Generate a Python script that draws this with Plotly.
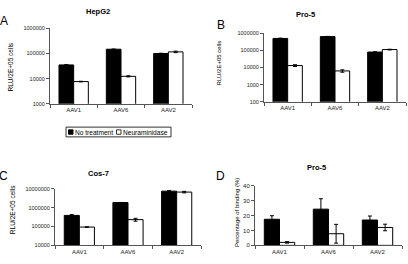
import plotly.graph_objects as go

W, H = 408, 264
categories = ["AAV1", "AAV6", "AAV2"]

# Panel A: HepG2
a_none = [35000, 148000, 100000]
a_none_err = [1500, 2000, 2500]
a_neur = [7600, 12300, 116000]
a_neur_err = [200, 600, 8000]

# Panel B: Pro-5
b_none = [500000, 640000, 80000]
b_none_err = [20000, 20000, 3000]
b_neur = [13000, 6300, 112000]
b_neur_err = [1500, 1000, 5000]

# Panel C: Cos-7
c_none = [385000, 1850000, 7400000]
c_none_err = [40000, 20000, 500000]
c_neur = [93000, 230000, 6600000]
c_neur_err = [2000, 40000, 600000]

# Panel D: Pro-5 binding (%)
d_none = [17.5, 24.3, 17.0]
d_none_err = [2.4, 7.0, 2.7]
d_neur = [2.0, 7.8, 12.0]
d_neur_err = [0.5, 6.3, 2.2]

log_ticks_A = [1000, 10000, 100000, 1000000]
log_ticks_B = [100, 1000, 10000, 100000, 1000000]
log_ticks_C = [10000, 100000, 1000000, 10000000]
lin_ticks_D = [0, 10, 20, 30, 40]

FONT = "Liberation Sans, Arial, sans-serif"
AX = "#555555"

def px_x(a, b):
    return [a / W, b / W]

def px_y(top, bottom):
    return [1 - bottom / H, 1 - top / H]

fig = go.Figure()

panels = [
    ("", a_none, a_none_err, a_neur, a_neur_err),
    ("2", b_none, b_none_err, b_neur, b_neur_err),
    ("3", c_none, c_none_err, c_neur, c_neur_err),
    ("4", d_none, d_none_err, d_neur, d_neur_err),
]

for suf, nv, ne, tv, te in panels:
    fig.add_trace(go.Bar(
        x=categories, y=nv, name="No treatment",
        marker=dict(color="black", line=dict(color="black", width=1)),
        error_y=dict(type="data", array=ne, color="black", thickness=1, width=2),
        xaxis="x" + suf, yaxis="y" + suf, showlegend=False,
    ))
    fig.add_trace(go.Bar(
        x=categories, y=tv, name="Neuraminidase",
        marker=dict(color="white", line=dict(color="black", width=1)),
        error_y=dict(type="data", array=te, color="black", thickness=1, width=2),
        xaxis="x" + suf, yaxis="y" + suf, showlegend=False,
    ))

def xax(dom, anchor):
    return dict(domain=dom, anchor=anchor, type="category", range=[-0.5, 2.5],
                showline=True, linecolor=AX, linewidth=1, ticks="outside",
                tickson="boundaries", ticklen=3, tickcolor=AX, showgrid=False,
                tickfont=dict(family=FONT, size=6, color="#222"), zeroline=False)

def yax_log(dom, anchor, rng, tv):
    return dict(domain=dom, anchor=anchor, type="log", range=rng,
                tickvals=tv, ticktext=[str(v) for v in tv],
                showline=True, linecolor=AX, linewidth=1, ticks="outside",
                ticklen=3, tickcolor=AX, showgrid=False, zeroline=False,
                tickfont=dict(family=FONT, size=5.5, color="#222"))

fig.update_layout(
    width=W, height=H, margin=dict(l=0, r=0, t=0, b=0),
    paper_bgcolor="white", plot_bgcolor="white",
    barmode="group", bargap=0.38, bargroupgap=0,
    showlegend=False,
    xaxis=xax(px_x(50, 192), "y"),
    yaxis=yax_log(px_y(26, 103), "x", [3, 6], log_ticks_A),
    xaxis2=xax(px_x(264, 406), "y2"),
    yaxis2=yax_log(px_y(31, 101), "x2", [2, 6], log_ticks_B),
    xaxis3=xax(px_x(55, 201), "y3"),
    yaxis3=yax_log(px_y(190, 248), "x3", [4, 7], log_ticks_C),
    xaxis4=xax(px_x(255, 402), "y4"),
    yaxis4=dict(domain=px_y(187, 248), anchor="x4", range=[0, 40],
                tickvals=lin_ticks_D, showline=True, linecolor=AX, linewidth=1,
                ticks="outside", ticklen=3, tickcolor=AX, showgrid=False,
                zeroline=False, tickfont=dict(family=FONT, size=6, color="#222")),
)

def ann(text, x, y, size, bold=False, angle=0):
    fig.add_annotation(
        text=("<b>%s</b>" % text) if bold else text,
        x=x / W, y=1 - y / H, xref="paper", yref="paper",
        showarrow=False, textangle=angle, xanchor="center", yanchor="middle",
        font=dict(family=FONT, size=size, color="black"),
    )

# Panel titles
ann("HepG2", 97.5, 9, 7.5, bold=True)
ann("Pro-5", 305.5, 12, 7.5, bold=True)
ann("Cos-7", 98.5, 174, 7.5, bold=True)
ann("Pro-5", 316, 168, 7.5, bold=True)

# Panel letters
ann("A", 4, 18, 12)
ann("B", 221, 22, 12)
ann("C", 3, 177, 12)
ann("D", 221, 177, 12)

# Y axis titles
ann("RLU/2E+05 cells", 10, 66, 6.5, angle=-90)
ann("RLU/2E+05 cells", 219, 62, 6, angle=-90)
ann("RLU/2E+05 cells", 12, 212, 6.5, angle=-90)
ann("Percentage of binding (%)", 237, 215, 6, angle=-90)

# Manual legend (box, swatches, labels)
fig.add_shape(type="rect", xref="paper", yref="paper",
              x0=66 / W, x1=171 / W, y0=1 - 137 / H, y1=1 - 127 / H,
              line=dict(color="#333", width=1), fillcolor="white")
fig.add_shape(type="rect", xref="paper", yref="paper",
              x0=68.5 / W, x1=73 / W, y0=1 - 134.3 / H, y1=1 - 129.8 / H,
              line=dict(color="black", width=1), fillcolor="black")
fig.add_shape(type="rect", xref="paper", yref="paper",
              x0=116.5 / W, x1=121 / W, y0=1 - 134.3 / H, y1=1 - 129.8 / H,
              line=dict(color="black", width=0.8), fillcolor="white")
fig.add_annotation(text="No treatment", x=72.5 / W, y=1 - 132 / H, xref="paper", yref="paper",
                   showarrow=False, xanchor="left", yanchor="middle",
                   font=dict(family=FONT, size=6.6, color="black"))
fig.add_annotation(text="Neuraminidase", x=120.5 / W, y=1 - 132 / H, xref="paper", yref="paper",
                   showarrow=False, xanchor="left", yanchor="middle",
                   font=dict(family=FONT, size=6.6, color="black"))

fig.write_html("out.html")
